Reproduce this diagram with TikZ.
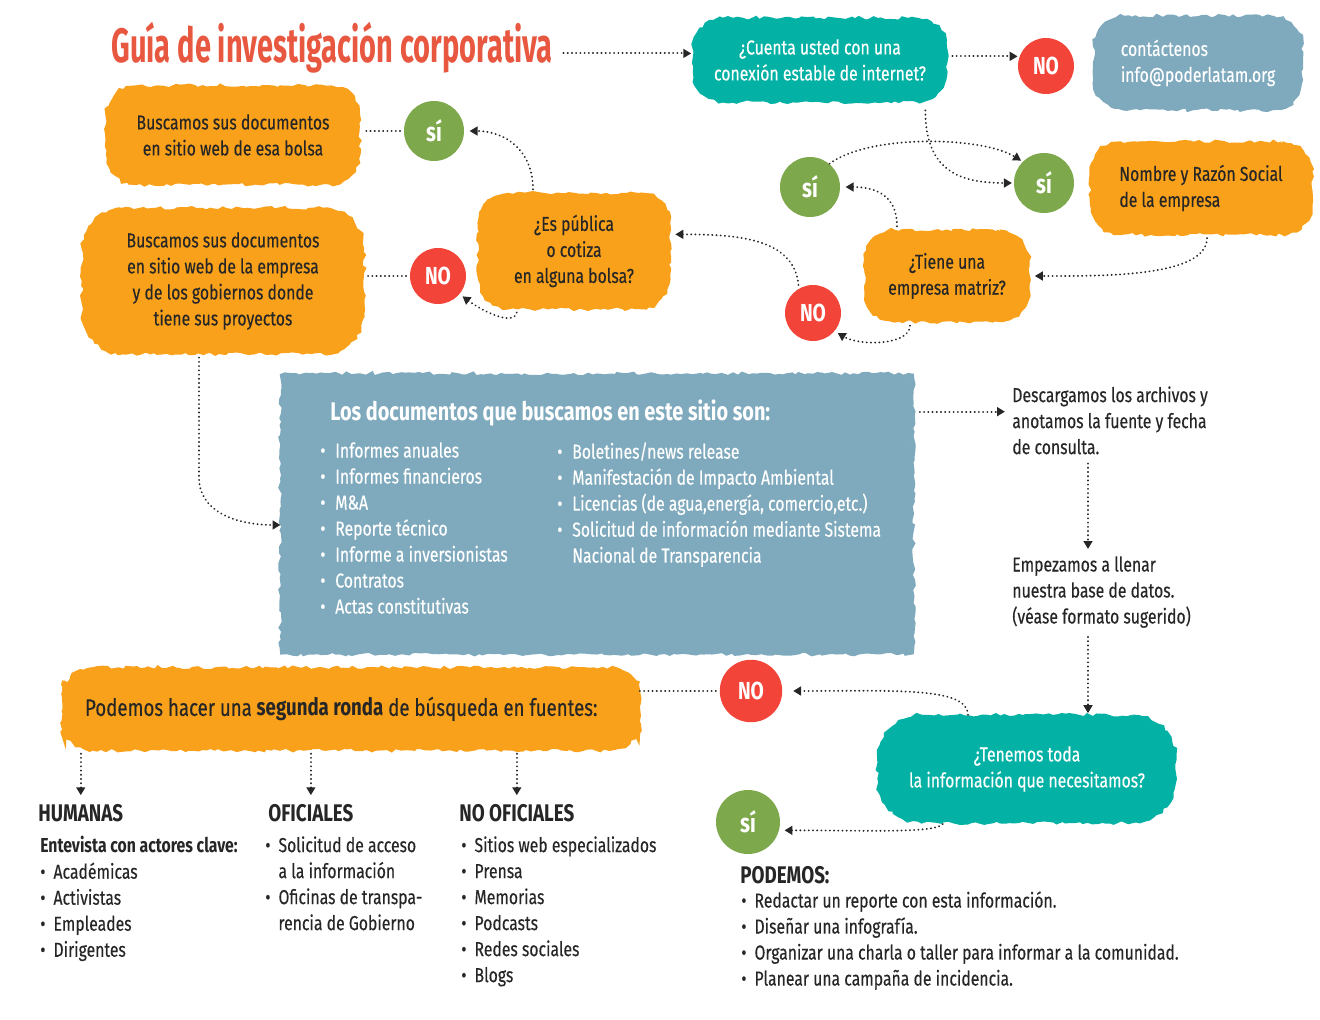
\documentclass[tikz,border=0pt]{standalone}
\usepackage{fontspec}
\setmainfont[FakeStretch=0.78, UprightFeatures={FakeBold=0.3}]{Fira Sans}
\newfontfamily\titlefont[FakeStretch=0.6]{Fira Sans}
\usetikzlibrary{arrows.meta,decorations.pathmorphing,positioning}

\definecolor{naranja}{HTML}{F9A11B}
\definecolor{turquesa}{HTML}{03B2A4}
\definecolor{azul}{HTML}{7FAABD}
\definecolor{rojo}{HTML}{F3443A}
\definecolor{verde}{HTML}{7DA84B}
\definecolor{rojotitulo}{HTML}{E8573F}
\definecolor{tinta}{HTML}{262626}

\newcommand\bul{\makebox[7.5pt][l]{\textbullet}}
\newcommand\bulx{\makebox[8.5pt][l]{\textbullet}}

\tikzset{
  borde/.style={draw=#1, sharp corners, line width=2.5pt, decorate,
    decoration={random steps, segment length=2.5pt, amplitude=1pt}},
  mancha/.style={fill=#1, rounded corners=16pt, inner sep=0pt, align=center, text=tinta,
    font=\fontsize{11.5}{14.8}\selectfont},
  blob/.style={mancha=#1, postaction={borde=#1}},
  si/.style={circle, fill=verde, minimum size=1.2cm, inner sep=0pt, text=white,
    font=\fontsize{15}{15}\selectfont\bfseries},
  no/.style={circle, fill=rojo, minimum size=1.12cm, inner sep=0pt, text=white,
    font=\fontsize{14}{14}\selectfont\bfseries},
  lista/.style={anchor=north west, inner sep=0pt, align=left, text=tinta,
    font=\fontsize{11.5}{14.8}\selectfont},
  cabeza/.style={anchor=north west, inner sep=0pt, text=tinta,
    font=\fontsize{13.7}{15}\selectfont\bfseries},
  enlace/.style={dash pattern=on 0.1pt off 2.3pt, line cap=round, line width=1.1pt, draw=tinta},
  >={Triangle[length=4.5pt,width=5pt]}
}

\begin{document}
\begin{tikzpicture}[x=0.02cm, y=-0.02cm]
    \pgfmathsetseed{42}
    \useasboundingbox (0,0) rectangle (1320,1020);
    % Titulo
    \node[inner sep=0pt, text=rojotitulo, font=\titlefont\fontsize{27.5}{28}\selectfont\bfseries] (title) at (332,48) {Guía de investigación corporativa};
    % Primera pregunta
    \node[blob=turquesa, text=white, minimum width=5cm, minimum height=1.6cm] (qnet) at (820,60) {¿Cuenta usted con una\\conexión estable de internet?};
    \node[no] (noNet) at (1046,66) {NO};
    \node[blob=azul, text=white, align=left, minimum width=4.1cm, minimum height=1.8cm] (contacto) at (1198,63) {contáctenos\\info@poderlatam.org};
    \node[si] (siNet) at (1044,183) {sí};
    \node[blob=naranja, align=left, minimum width=4.36cm, minimum height=1.78cm] (razon) at (1201,188) {Nombre y Razón Social\\de la empresa};
    % Empresa matriz
    \node[blob=naranja, minimum width=3.22cm, minimum height=1.76cm] (qmatriz) at (947,276) {¿Tiene una\\empresa matriz?};
    \node[si] (siMatriz) at (810,187) {sí};
    \node[no] (noMatriz) at (813,313) {NO};
    % Bolsa
    \node[blob=naranja, minimum width=3.76cm, minimum height=2.24cm] (qbolsa) at (574,251) {¿Es pública\\o cotiza\\en alguna bolsa?};
    \node[si] (siBolsa) at (434,131) {sí};
    \node[no] (noBolsa) at (438,276) {NO};
    \node[blob=naranja, minimum width=5cm, minimum height=1.9cm] (webBolsa) at (233,135) {Buscamos sus documentos\\en sitio web de esa bolsa};
    \node[blob=naranja, rounded corners=22pt, minimum width=5.56cm, minimum height=2.84cm] (webEmpresa) at (223,281) {Buscamos sus documentos\\en sitio web de la empresa\\y de los gobiernos donde\\tiene sus proyectos};
    % Documentos
    \node[mancha=azul, rounded corners=3pt, minimum width=12.58cm, minimum height=5.52cm] (docs) at (597,514) {};
    \draw[borde=azul] (docs.north west) -- (docs.150) -- (docs.120) -- (docs.90) -- (docs.60) -- (docs.30) -- (docs.north east) -- (docs.east) -- (docs.south east) -- (docs.-30) -- (docs.-60) -- (docs.-90) -- (docs.-120) -- (docs.-150) -- (docs.south west) -- (docs.west) -- cycle;
    \node[anchor=north west, inner sep=0pt, text=white, font=\fontsize{14.5}{16}\selectfont\bfseries] (docsTit) at (330,399) {Los documentos que buscamos en este sitio son:};
    \node[lista, text=white] (docsA) at (320,442) {\bulx Informes anuales\\\bulx Informes financieros\\\bulx M\&A\\\bulx Reporte técnico\\\bulx Informe a inversionistas\\\bulx Contratos\\\bulx Actas constitutivas};
    \node[lista, text=white] (docsB) at (557,442) {\bulx Boletines/news release\\\bulx Manifestación de Impacto Ambiental\\\bulx Licencias (de agua,energía, comercio,etc.)\\\bulx Solicitud de información mediante Sistema\\\hspace*{8.5pt}Nacional de Transparencia};
    \node[lista] (descarga) at (1012,386) {Descargamos los archivos y\\anotamos la fuente y fecha\\de consulta.};
    \node[lista] (llenar) at (1012,556) {Empezamos a llenar\\nuestra base de datos.\\(véase formato sugerido)};
    % Ultima pregunta
    \node[blob=turquesa, rounded corners=24pt, text=white, minimum width=5.9cm, minimum height=2.08cm] (qinfo) at (1027,769) {¿Tenemos toda\\la información que necesitamos?};
    \node[no, minimum size=1.25cm] (noInfo) at (751,691) {NO};
    \node[si, minimum size=1.28cm] (siInfo) at (748,822) {sí};
    \node[mancha=naranja, minimum width=11.46cm, minimum height=1.56cm, align=left, text width=10.64cm, font=\fontsize{13.6}{15}\selectfont] (ronda) at (351,709) {\mbox{\spaceskip=0pt\xspaceskip=0pt Podemos hacer una \textbf{segunda ronda} de búsqueda en fuentes:}};
    \path[rounded corners=16pt, postaction={borde=naranja}] (ronda.north west) -- (ronda.160) -- (ronda.90) -- (ronda.20) -- (ronda.north east) -- (ronda.east) -- (ronda.south east) -- (ronda.-20) -- (ronda.-90) -- (ronda.-160) -- (ronda.south west) -- (ronda.west) -- cycle;
    % Fuentes
    \node[cabeza] (humanas) at (38,804) {HUMANAS};
    \node[lista] (humList) at (40,836) {\textbf{Entevista con actores clave:}\\\bul Académicas\\\bul Activistas\\\bul Empleades\\\bul Dirigentes};
    \node[cabeza] (oficiales) at (268,804) {OFICIALES};
    \node[lista] (ofiList) at (265,836) {\bul Solicitud de acceso\\\hspace*{7.5pt}a la información\\\bul Oficinas de transpa-\\\hspace*{7.5pt}rencia de Gobierno};
    \node[cabeza] (nooficiales) at (459,804) {NO OFICIALES};
    \node[lista] (noofiList) at (461,836) {\bul Sitios web especializados\\\bul Prensa\\\bul Memorias\\\bul Podcasts\\\bul Redes sociales\\\bul Blogs};
    \node[cabeza] (podemos) at (740,866) {PODEMOS:};
    \node[lista] (podList) at (741,891) {\bul Redactar un reporte con esta información.\\\bul Diseñar una infografía.\\\bul Organizar una charla o taller para informar a la comunidad.\\\bul Planear una campaña de incidencia.};
    % Conectores de arriba
    \draw[enlace,->,shorten <=6pt,shorten >=2pt] (title.east |- qnet.177) -- (qnet.177);
    \draw[enlace,->,shorten <=4pt,shorten >=1pt] (qnet.east |- noNet.160) -- (noNet.160);
    \draw[enlace,->,shorten >=1pt] ([shift={(-20,10)}]qnet.south east) .. controls +(0,60) and +(-55,0) .. (siNet.west);
    \draw[enlace,->,shorten >=1pt] (siMatriz.50) .. controls +(40,-30) and +(-40,-25) .. (siNet.135);
    \draw[enlace,->,shorten <=3pt,shorten >=4pt] ([shift={(6,0)}]razon.south) .. controls +(0,45) and +(70,0) .. (qmatriz.east);
    \draw[enlace,->,shorten <=3pt,shorten >=3pt] ([shift={(-50,0)}]qmatriz.north) .. controls +(0,-40) and +(30,0) .. (siMatriz.east);
    \draw[enlace,->,shorten <=3pt,shorten >=2pt] ([shift={(-37,0)}]qmatriz.south) .. controls +(0,25) and +(25,15) .. (noMatriz.-40);
    \draw[enlace,->,shorten <=2pt,shorten >=4pt] (noMatriz.120) .. controls +(-5,-50) and +(70,0) .. (qbolsa.10);
    \draw[enlace,->,shorten <=3pt,shorten >=3pt] ([shift={(-41,0)}]qbolsa.north) .. controls +(0,-45) and +(40,0) .. (siBolsa.east);
    \draw[enlace,->,shorten <=3pt,shorten >=2pt] ([shift={(-56,0)}]qbolsa.south) .. controls +(-5,20) and +(20,15) .. (noBolsa.-40);
    \draw[enlace,shorten <=2pt,shorten >=3pt] (siBolsa.west) -- (siBolsa.west -| webBolsa.east);
    \draw[enlace,shorten <=2pt,shorten >=3pt] (noBolsa.west) -- (noBolsa.west -| webEmpresa.east);
    % Hacia los documentos
    \draw[enlace,->,shorten <=3pt,shorten >=1pt] ([shift={(-24,0)}]webEmpresa.south) -- ++(0,125) .. controls +(0,35) and +(-45,0) .. (docs.182);
    \coordinate (docsOut) at ([shift={(8,36)}]docs.north east);
    \coordinate (eje) at (1088,0);
    \draw[enlace,->,shorten >=4pt] (docsOut) -- (docsOut -| descarga.west);
    \draw[enlace,->,shorten <=5pt,shorten >=4pt] (descarga.south -| eje) -- (llenar.north -| eje);
    \draw[enlace,->,shorten <=5pt,shorten >=2pt] (llenar.south -| eje) -- (qinfo.north -| eje);
    % Conectores de abajo
    \draw[enlace,->,shorten <=1pt,shorten >=6pt] ([shift={(-59,0)}]qinfo.north) .. controls +(0,-30) and +(110,0) .. (noInfo.east);
    \draw[enlace,shorten <=2pt,shorten >=1pt] (noInfo.west) -- (noInfo.west -| ronda.east);
    \draw[enlace,->,shorten <=2pt,shorten >=3pt] ([shift={(-82,0)}]qinfo.south) .. controls +(-10,12) and +(90,0) .. (siInfo.-15);
    \foreach \col in {humanas,oficiales,nooficiales}
        \draw[enlace,->,shorten <=3pt,shorten >=5pt] (ronda.south -| \col) -- (\col.north);
\end{tikzpicture}
\end{document}
